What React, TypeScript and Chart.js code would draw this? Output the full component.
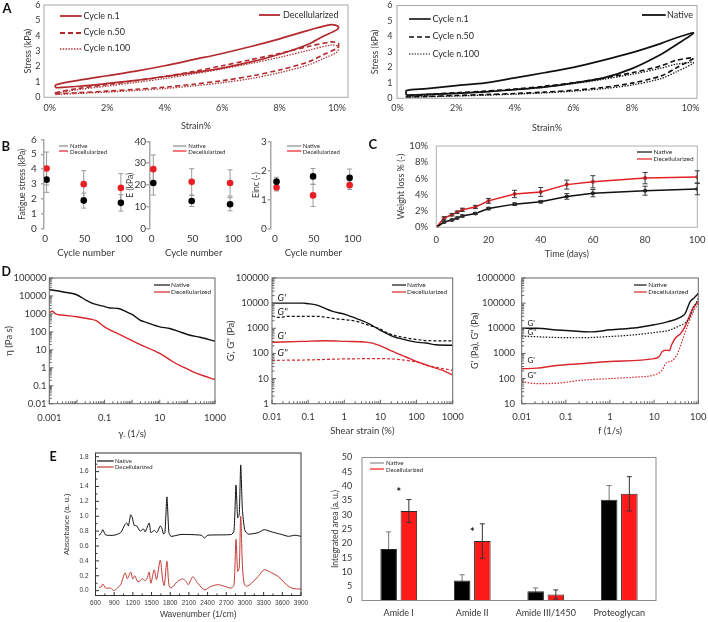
import React, { useEffect, useRef } from 'react';
import { Chart, registerables } from 'chart.js';

Chart.register(...registerables);

// ---------------- Panel A : hysteresis loops (strain %, stress kPa) ----------------
const strainTicks = [0, 2, 4, 6, 8, 10];
const stressTicks = [0, 1, 2, 3, 4, 5, 6];
const decLoopStrain = [0.2, 1, 2, 3, 4, 5, 6, 7, 8, 9, 9.5, 10, 10.05, 9.8, 9, 8, 7, 6, 5, 4, 3, 2, 1, 0.2, 0.2];
const decCycle1 = [0.62, 0.72, 0.9, 1.1, 1.35, 1.6, 1.9, 2.3, 2.8, 3.45, 3.95, 4.4, 4.6, 4.72, 4.35, 3.8, 3.3, 2.85, 2.45, 2.05, 1.7, 1.4, 1.1, 0.8, 0.62];
const decCycle50 = [0.22, 0.3, 0.4, 0.52, 0.66, 0.85, 1.08, 1.38, 1.78, 2.3, 2.75, 3.2, 3.5, 3.6, 3.3, 2.85, 2.45, 2.05, 1.68, 1.35, 1.08, 0.82, 0.58, 0.3, 0.22];
const decCycle100 = [0.18, 0.25, 0.34, 0.44, 0.57, 0.74, 0.95, 1.22, 1.6, 2.1, 2.5, 2.95, 3.3, 3.4, 3.05, 2.6, 2.2, 1.85, 1.52, 1.22, 0.97, 0.73, 0.5, 0.25, 0.18];
const natLoopStrain = [0.3, 1, 2, 3, 4, 5, 6, 7, 8, 9, 9.5, 10.1, 9.5, 9, 8, 7, 6, 5, 4, 3, 2, 1, 0.3, 0.3];
const natCycle1 = [0.2, 0.25, 0.32, 0.42, 0.56, 0.72, 0.98, 1.3, 1.92, 2.85, 3.45, 4.22, 3.9, 3.55, 2.95, 2.45, 2.0, 1.65, 1.32, 1.0, 0.82, 0.62, 0.5, 0.2];
const natCycle50 = [0.08, 0.12, 0.18, 0.24, 0.31, 0.4, 0.52, 0.7, 0.98, 1.45, 1.95, 2.6, 2.45, 2.1, 1.65, 1.3, 1.0, 0.78, 0.6, 0.47, 0.36, 0.24, 0.15, 0.08];
const natCycle100 = [0.06, 0.1, 0.15, 0.2, 0.27, 0.35, 0.46, 0.62, 0.86, 1.28, 1.7, 2.3, 2.2, 1.95, 1.55, 1.22, 0.95, 0.73, 0.56, 0.43, 0.32, 0.2, 0.1, 0.06];

// ---------------- Panel B : fatigue ----------------
const cycleNumbers = [2, 49, 96];
const cycleTicks = [0, 50, 100];
const fatigueTicks = [0, 1, 2, 3, 4, 5, 6];
const fatigueNative = [3.3, 1.9, 1.75];
const fatigueNativeErr = [0.85, 0.5, 0.55];
const fatigueDecell = [4.05, 3.0, 2.75];
const fatigueDecellErr = [1.1, 0.9, 0.95];
const modulusTicks = [0, 10, 20, 30, 40];
const modulusNative = [21, 12.8, 11.3];
const modulusNativeErr = [5.5, 2.5, 3];
const modulusDecell = [27.3, 21.5, 21];
const modulusDecellErr = [6.5, 6, 6];
const eincTicks = [0, 1, 2, 3];
const eincNative = [1.62, 1.8, 1.75];
const eincNativeErr = [0.15, 0.27, 0.3];
const eincDecell = [1.42, 1.15, 1.5];
const eincDecellErr = [0.12, 0.38, 0.15];

// ---------------- Panel C : weight loss ----------------
const days = [0, 3, 6, 8, 10, 15, 20, 30, 40, 50, 60, 80, 100];
const dayTicks = [0, 20, 40, 60, 80, 100];
const lossTicks = [0, 2, 4, 6, 8, 10];
const lossNative = [0, 0.65, 0.9, 1.15, 1.4, 1.7, 2.3, 2.85, 3.15, 3.8, 4.2, 4.5, 4.7];
const lossNativeErr = [0, 0.1, 0.1, 0.1, 0.12, 0.12, 0.15, 0.15, 0.15, 0.35, 0.45, 0.55, 0.7];
const lossDecell = [0, 1.15, 1.55, 1.85, 2.15, 2.5, 3.25, 4.1, 4.35, 5.25, 5.6, 6.05, 6.2];
const lossDecellErr = [0, 0.15, 0.15, 0.15, 0.2, 0.2, 0.3, 0.45, 0.55, 0.55, 0.75, 0.7, 0.75];

// ---------------- Panel D : rheology ----------------
const rateTicks = [0.001, 0.1, 10, 1000];
const viscTicks = [0.01, 0.1, 1, 10, 100, 1000, 10000, 100000];
const rateNative = [0.001, 0.0043, 0.0098, 0.022, 0.039, 0.09, 0.157, 0.316, 0.63, 1.1, 1.93, 3.4, 10, 23, 62, 125, 290, 1000];
const viscNative = [23000, 15500, 11700, 5700, 3700, 2700, 2150, 2000, 1300, 850, 450, 330, 190, 155, 92, 65, 50, 30];
const rateDecell = [0.001, 0.0013, 0.0017, 0.0032, 0.0098, 0.03, 0.05, 0.1, 0.36, 1.9, 10, 31, 71, 160, 380, 1000];
const viscDecell = [1180, 1400, 1000, 850, 700, 520, 420, 190, 70, 20, 6.3, 2.1, 1.1, 0.6, 0.36, 0.22];

const ampTicks = [0.01, 0.1, 1, 10, 100, 1000];
const modAmpTicks = [1, 10, 100, 1000, 10000, 100000];
const ampGpNatX = [0.01, 0.07, 0.1, 0.165, 0.48, 1.1, 2.6, 4.9, 9.3, 22, 41, 96, 180, 350, 1000];
const ampGpNat = [10000, 10000, 9500, 8500, 4700, 3500, 2200, 1500, 880, 480, 370, 280, 260, 220, 210];
const ampGppNatX = [0.01, 0.015, 0.03, 0.165, 0.59, 2.1, 4.9, 9.3, 18, 41, 96, 220, 1000];
const ampGppNat = [3100, 2700, 3000, 3000, 2400, 1900, 1300, 960, 600, 440, 360, 320, 315];
const ampGpDecX = [0.01, 0.07, 0.31, 1.1, 4, 9.3, 22, 51, 107, 220, 530, 1000];
const ampGpDec = [280, 300, 320, 300, 280, 210, 120, 72, 46, 32, 21, 14];
const ampGppDecX = [0.01, 0.1, 0.8, 9.3, 22, 41, 96, 220, 530, 1000];
const ampGppDec = [53, 55, 60, 62, 60, 55, 46, 32, 25, 21];

const freqTicks = [0.01, 0.1, 1, 10, 100];
const modFreqTicks = [10, 100, 1000, 10000, 100000, 1000000];
const freqGpNatX = [0.01, 0.022, 0.062, 0.18, 0.4, 1, 4, 10, 20, 40, 50, 65, 80, 100];
const freqGpNat = [10000, 10000, 8500, 7600, 7200, 8700, 10500, 13800, 18000, 28000, 38000, 112000, 160000, 240000];
const freqGppNatX = [0.01, 0.022, 0.062, 0.18, 1, 4, 10, 23, 38, 50, 65, 80, 100];
const freqGppNat = [4900, 4600, 4300, 4200, 4700, 5600, 6800, 8500, 12700, 16000, 28000, 70000, 150000];
const freqGpDecX = [0.01, 0.022, 0.062, 0.21, 1, 10, 13, 15, 18, 22, 25, 30, 40, 50, 60, 75, 100];
const freqGpDec = [245, 260, 330, 390, 480, 620, 750, 1150, 1350, 1300, 2250, 4000, 6300, 11700, 25000, 63000, 115000];
const freqGppDecX = [0.01, 0.022, 0.062, 0.21, 1, 4, 10, 15, 19, 25, 33, 45, 60, 77, 100];
const freqGppDec = [75, 63, 65, 85, 100, 115, 140, 210, 430, 500, 900, 4000, 16000, 45000, 100000];

// ---------------- Panel E : FTIR ----------------
const wnTicks = [600, 900, 1200, 1500, 1800, 2100, 2400, 2700, 3000, 3300, 3600, 3900];
const absTicks = [0, 0.2, 0.4, 0.6, 0.8, 1.0, 1.2, 1.4, 1.6, 1.8];
const ftirNatWn = [654, 690, 718, 762, 896, 1004, 1074, 1100, 1128, 1165, 1192, 1219, 1262, 1316, 1370, 1397, 1462, 1489, 1543, 1586, 1640, 1666, 1693, 1715, 1747, 1779, 1812, 1973, 2297, 2350, 2404, 2781, 2824, 2856, 2883, 2908, 2932, 2959, 2996, 3050, 3212, 3309, 3428, 3589, 3697, 3805, 3900];
const ftirNatAbs = [0.745, 0.77, 0.82, 0.75, 0.745, 0.78, 0.89, 0.91, 0.87, 1.02, 0.98, 0.88, 0.87, 0.8, 0.83, 0.79, 0.91, 0.78, 0.81, 0.78, 0.87, 0.84, 0.76, 0.78, 1.26, 0.78, 0.73, 0.755, 0.745, 0.71, 0.745, 0.755, 0.8, 1.42, 0.98, 1.02, 1.69, 1.09, 0.82, 0.76, 0.78, 0.82, 0.79, 0.755, 0.73, 0.745, 0.73];
const ftirDecWn = [654, 690, 718, 762, 842, 896, 950, 1004, 1074, 1112, 1165, 1197, 1230, 1284, 1354, 1392, 1424, 1462, 1489, 1543, 1580, 1640, 1678, 1704, 1747, 1779, 1812, 1920, 2000, 2054, 2092, 2162, 2243, 2350, 2458, 2566, 2673, 2781, 2824, 2856, 2883, 2908, 2932, 2959, 2986, 3023, 3104, 3212, 3309, 3428, 3535, 3643, 3751, 3900];
const ftirDecAbs = [0.045, 0.05, 0.09, 0.035, 0.035, 0.0, 0.035, 0.08, 0.24, 0.16, 0.25, 0.157, 0.2, 0.117, 0.16, 0.135, 0.157, 0.25, 0.1, 0.28, 0.15, 0.41, 0.15, 0.07, 0.395, 0.08, 0.035, 0.125, 0.157, 0.125, 0.08, 0.185, 0.1, 0.013, 0.058, 0.08, 0.058, 0.035, 0.08, 0.69, 0.26, 0.305, 1.0, 0.35, 0.1, 0.058, 0.1, 0.19, 0.28, 0.24, 0.19, 0.1, 0.035, 0.02];

const bands = ['Amide I', 'Amide II', 'Amide III/1450', 'Proteoglycan'];
const areaTicks = [0, 5, 10, 15, 20, 25, 30, 35, 40, 45, 50];
const areaNative = [18, 7, 3.2, 35.2];
const areaNativeErr = [6, 2, 1.2, 5];
const areaDecell = [31.3, 20.8, 2.1, 37.3];
const areaDecellErr = [4, 6, 1.6, 6];
const starLevels = [39, 25, null, null];

// ---------------- styling ----------------
const LATO = 'Lato, "Open Sans", sans-serif';
const ARIAL = '"Liberation Sans", Arial, sans-serif';
const TXT = '#363636';
const RED_A = '#b22a2e';
const RED_B = '#ea1f26';
const RED_D = '#d8262b';
const RED_E1 = '#c23b35';
const RED_E2 = '#ff1a1a';

type Box = [number, number, number, number];

const pts = (xs: number[], ys: number[]) => xs.map((x, i) => ({ x, y: ys[i] }));
const logFmt = (v: number) => String(Number(v.toPrecision(3)));
function minorLog(lo: number, hi: number) {
  const out: number[] = [];
  for (let e = lo; e < hi; e++) for (let k = 2; k <= 9; k++) out.push(k * Math.pow(10, e));
  return out;
}
function majorLog(lo: number, hi: number) {
  const out: number[] = [];
  for (let e = lo; e <= hi; e++) out.push(Math.pow(10, e));
  return out;
}
function steps(a: number, b: number, s: number) {
  const out: number[] = [];
  for (let v = a; v <= b + 1e-9; v += s) out.push(Number(v.toFixed(4)));
  return out;
}

// ---------------- plugins ----------------
const framePlugin = (color?: string, width = 1) => ({
  id: 'frame',
  afterDatasetsDraw(chart: any) {
    if (!color) return;
    const { ctx, chartArea: a } = chart;
    ctx.save();
    ctx.strokeStyle = color;
    ctx.lineWidth = width;
    ctx.strokeRect(a.left, a.top, a.right - a.left, a.bottom - a.top);
    ctx.restore();
  },
});

const inTickPlugin = (o?: any) => ({
  id: 'inTicks',
  afterDatasetsDraw(chart: any) {
    if (!o) return;
    const { ctx, chartArea: a, scales } = chart;
    ctx.save();
    ctx.strokeStyle = o.color;
    ctx.lineWidth = 1;
    const draw = (vals: number[] | undefined, len: number, axis: 'x' | 'y') => {
      if (!vals) return;
      const s = scales[axis];
      ctx.beginPath();
      for (const v of vals) {
        const p = s.getPixelForValue(v);
        if (axis === 'x') {
          if (p < a.left - 0.5 || p > a.right + 0.5) continue;
          ctx.moveTo(p, a.bottom);
          ctx.lineTo(p, a.bottom - len);
        } else {
          if (p < a.top - 0.5 || p > a.bottom + 0.5) continue;
          ctx.moveTo(a.left, p);
          ctx.lineTo(a.left + len, p);
        }
      }
      ctx.stroke();
    };
    draw(o.xMajor, o.majorLen, 'x');
    draw(o.xMinor, o.minorLen, 'x');
    draw(o.yMajor, o.majorLen, 'y');
    draw(o.yMinor, o.minorLen, 'y');
    ctx.restore();
  },
});

function drawErrors(chart: any, onTop: boolean) {
  const { ctx } = chart;
  chart.data.datasets.forEach((ds: any, i: number) => {
    if (!ds.errorBars || !!ds.errorOnTop !== onTop) return;
    const meta = chart.getDatasetMeta(i);
    const ys = chart.scales[meta.yAxisID];
    ctx.save();
    ctx.strokeStyle = ds.errorColor || '#555';
    ctx.lineWidth = ds.errorWidth || 1;
    const cap = ds.errorCap ?? 3;
    meta.data.forEach((el: any, j: number) => {
      const raw = ds.data[j];
      const v = typeof raw === 'number' ? raw : raw.y;
      const e = ds.errorBars[j];
      if (!e) return;
      const x = el.x;
      const y1 = ys.getPixelForValue(v + e);
      const y0 = ys.getPixelForValue(v - e);
      ctx.beginPath();
      ctx.moveTo(x, y0);
      ctx.lineTo(x, y1);
      ctx.moveTo(x - cap, y1);
      ctx.lineTo(x + cap, y1);
      ctx.moveTo(x - cap, y0);
      ctx.lineTo(x + cap, y0);
      ctx.stroke();
    });
    ctx.restore();
  });
}
const errPlugin = {
  id: 'errBars',
  beforeDatasetsDraw(chart: any) { drawErrors(chart, false); },
  afterDatasetsDraw(chart: any) { drawErrors(chart, true); },
};

const starPlugin = {
  id: 'stars',
  afterDatasetsDraw(chart: any) {
    const { ctx, scales } = chart;
    chart.data.datasets.forEach((ds: any) => {
      if (!ds.stars) return;
      ctx.save();
      ctx.fillStyle = '#111';
      ctx.font = `bold 11px ${LATO}`;
      ctx.textAlign = 'center';
      ctx.textBaseline = 'middle';
      ds.stars.forEach((lv: number | null, i: number) => {
        if (lv == null) return;
        ctx.fillText('*', scales.x.getPixelForValue(i), scales.y.getPixelForValue(lv) + 3);
      });
      ctx.restore();
    });
  },
};

// ---------------- config builder ----------------
function buildAxis(a: any, fit: (s: any) => void, pad: number, titlePad: number) {
  const o: any = {
    type: a.type || 'linear',
    afterFit: fit,
    ticks: {
      autoSkip: false,
      maxRotation: 0,
      minRotation: 0,
      padding: pad,
      color: TXT,
      font: { family: a.family || LATO, size: a.size },
    },
    grid: a.tickLen
      ? { display: true, drawOnChartArea: false, drawTicks: true, tickLength: a.tickLen, color: a.axisColor || '#999', lineWidth: a.axisWidth || 1 }
      : { display: false, drawTicks: false },
    border: { display: !!a.axisColor, color: a.axisColor || '#999', width: a.axisWidth || 1 },
    title: a.title
      ? {
          display: true,
          text: a.title,
          color: TXT,
          font: { family: a.family || LATO, size: a.titleSize },
          padding: { top: titlePad, bottom: titlePad },
        }
      : { display: false },
  };
  if (a.min !== undefined) o.min = a.min;
  if (a.max !== undefined) o.max = a.max;
  if (a.ticks) o.afterBuildTicks = (s: any) => { s.ticks = a.ticks.map((v: number) => ({ value: v })); };
  if (a.fmt) o.ticks.callback = a.fmt;
  return o;
}

function makeConfig(s: any) {
  const [cl, ct, cr, cb] = s.c as Box;
  const [pl, pt, pr, pb] = s.p as Box;
  const xs = s.x;
  const ys = s.y;
  const xPad = xs.labelCY - pb - 0.6 * xs.size - (xs.tickLen || 0);
  const yPad = pl - ys.labelRX - (ys.tickLen || 0);
  const xTP = xs.title ? cb - xs.titleCY - 0.6 * xs.titleSize : 0;
  const yTP = ys.title ? ys.titleCX - cl - 0.6 * ys.titleSize : 0;
  const fitX = (sc: any) => { sc.height = cb - pb; sc.paddingLeft = 0; sc.paddingRight = 0; sc.paddingTop = 0; sc.paddingBottom = 0; };
  const fitY = (sc: any) => { sc.width = pl - cl; sc.paddingLeft = 0; sc.paddingRight = 0; sc.paddingTop = 0; sc.paddingBottom = 0; };
  const data: any = { datasets: s.datasets };
  if (s.labels) data.labels = s.labels;
  return {
    type: s.type,
    data,
    plugins: [framePlugin(s.frame, s.frameWidth), inTickPlugin(s.inTicks), errPlugin, starPlugin],
    options: {
      responsive: false,
      animation: false,
      devicePixelRatio: 1,
      events: [],
      layout: { padding: { left: 0, top: pt - ct, right: cr - pr, bottom: 0 } },
      scales: { x: buildAxis(xs, fitX, xPad, xTP), y: buildAxis(ys, fitY, yPad, yTP) },
      plugins: { legend: { display: false }, tooltip: { enabled: false } },
    },
  };
}

const lineDs = (data: any[], color: string, width: number, dash: number[] = [], tension = 0.3, mono = false) => ({
  data,
  showLine: true,
  borderColor: color,
  backgroundColor: color,
  borderWidth: width,
  borderDash: dash,
  pointRadius: 0,
  fill: false,
  tension,
  cubicInterpolationMode: mono ? 'monotone' : 'default',
});

const dotDs = (xs: number[], ys: number[], err: number[], color: string) => ({
  data: pts(xs, ys),
  showLine: false,
  pointRadius: 3.3,
  pointBackgroundColor: color,
  pointBorderWidth: 0,
  errorBars: err,
  errorColor: '#9a9a9a',
  errorCap: 2.5,
});

// ---------------- chart specs ----------------
function specA(left: boolean) {
  const strain = left ? decLoopStrain : natLoopStrain;
  const loops = left ? [decCycle1, decCycle50, decCycle100] : [natCycle1, natCycle50, natCycle100];
  const col = left ? RED_A : '#111';
  return makeConfig({
    type: 'scatter',
    c: left ? [0, 0, 354, 134] : [354, 0, 708, 134],
    p: left ? [44, 5, 348, 97.3] : [397, 5.5, 697, 98.3],
    x: {
      min: left ? -0.2 : -0.02, max: left ? 10.38 : 10.22, ticks: strainTicks, fmt: (v: number) => v + '%',
      size: 9, labelCY: 108.5, title: 'Strain%', titleSize: 9, titleCY: left ? 126 : 128,
    },
    y: {
      min: 0, max: 6, ticks: stressTicks, size: 9, labelRX: left ? 40.5 : 392.5,
      title: 'Stress (kPa)', titleSize: 9, titleCX: left ? 28 : 375,
    },
    frame: '#a8a8a8',
    datasets: [
      lineDs(pts(strain, loops[0]), col, 1.7, [], 0.3),
      lineDs(pts(strain, loops[1]), col, 1.6, [5, 3], 0.3),
      lineDs(pts(strain, loops[2]), col, 1.3, [1.4, 1.4], 0.3),
    ],
  });
}

function specB(k: number) {
  const c: Box[] = [[0, 134, 140, 266], [120, 134, 252, 266], [240, 134, 366, 266]];
  const p: Box[] = [[44, 139.3, 128, 229], [149.3, 141.3, 238, 229], [270.7, 141.3, 356, 229]];
  const xr = [[-1.3, 105], [-2.9, 105.7], [-5.5, 104.2]];
  const yTicks = [fatigueTicks, modulusTicks, eincTicks][k];
  const nat = [fatigueNative, modulusNative, eincNative][k];
  const natE = [fatigueNativeErr, modulusNativeErr, eincNativeErr][k];
  const dec = [fatigueDecell, modulusDecell, eincDecell][k];
  const decE = [fatigueDecellErr, modulusDecellErr, eincDecellErr][k];
  return makeConfig({
    type: 'scatter',
    c: c[k],
    p: p[k],
    x: { min: xr[k][0], max: xr[k][1], ticks: cycleTicks, size: 10, labelCY: 238.5, title: 'Cycle number', titleSize: 9.5, titleCY: 252.5 },
    y: {
      min: 0, max: yTicks[yTicks.length - 1], ticks: yTicks, size: 10,
      labelRX: [36.7, 146, 266.7][k], tickLen: 3, axisColor: '#a9a9a9', axisWidth: 1.5,
      title: ['Fatigue stress (kPa)', 'E (kPa)', 'Einc (-)'][k], titleSize: 8.5, titleCX: [22, 130.5, 256][k],
    },
    datasets: [dotDs(cycleNumbers, nat, natE, '#000'), dotDs(cycleNumbers, dec, decE, RED_B)],
  });
}

function specC() {
  const mk = (ys: number[], err: number[], color: string) => ({
    data: pts(days, ys),
    showLine: true,
    borderColor: color,
    borderWidth: 1.5,
    pointRadius: 2,
    pointBackgroundColor: color,
    pointBorderWidth: 0,
    tension: 0,
    errorBars: err,
    errorColor: '#3a3a3a',
    errorCap: 2.5,
    errorOnTop: true,
  });
  return makeConfig({
    type: 'scatter',
    c: [362, 134, 708, 266],
    p: [436.3, 146, 697.3, 227.3],
    x: { min: 0, max: 100, ticks: dayTicks, size: 9.5, labelCY: 239.5, title: 'Time (days)', titleSize: 9, titleCY: 254 },
    y: {
      min: 0, max: 10, ticks: lossTicks, fmt: (v: number) => v + '%', size: 9.5, labelRX: 428,
      title: 'Weight loss % (-)', titleSize: 9, titleCX: 400.7,
    },
    frame: '#b0b0b0',
    datasets: [mk(lossNative, lossNativeErr, '#111'), mk(lossDecell, lossDecellErr, '#e31e24')],
  });
}

function specD(k: number) {
  const c: Box[] = [[0, 264, 236, 442], [222, 264, 470, 442], [468, 264, 708, 442]];
  const p: Box[] = [[49.3, 278, 215, 403.7], [272, 278, 452.7, 403.7], [521.7, 278, 698.3, 403.7]];
  const xR = [[-3, 3], [-2, 3], [-2, 2]][k];
  const yR = [[-2, 5], [0, 5], [1, 6]][k];
  const xTicks = [rateTicks, ampTicks, freqTicks][k];
  const yTicks = [viscTicks, modAmpTicks, modFreqTicks][k];
  let datasets: any[];
  if (k === 0) {
    datasets = [
      lineDs(pts(rateNative, viscNative), '#111', 1.4, [], 0, true),
      lineDs(pts(rateDecell, viscDecell), RED_D, 1.4, [], 0, true),
    ];
  } else if (k === 1) {
    datasets = [
      lineDs(pts(ampGpNatX, ampGpNat), '#111', 1.4, [], 0, true),
      lineDs(pts(ampGppNatX, ampGppNat), '#111', 1.2, [3, 2], 0, true),
      lineDs(pts(ampGpDecX, ampGpDec), RED_D, 1.4, [], 0, true),
      lineDs(pts(ampGppDecX, ampGppDec), RED_D, 1.2, [3, 2], 0, true),
    ];
  } else {
    datasets = [
      lineDs(pts(freqGpNatX, freqGpNat), '#111', 1.4, [], 0, true),
      lineDs(pts(freqGppNatX, freqGppNat), '#111', 1.2, [1.5, 1.5], 0, true),
      lineDs(pts(freqGpDecX, freqGpDec), RED_D, 1.4, [], 0, true),
      lineDs(pts(freqGppDecX, freqGppDec), RED_D, 1.2, [1.5, 1.5], 0, true),
    ];
  }
  return makeConfig({
    type: 'scatter',
    c: c[k],
    p: p[k],
    x: {
      type: 'logarithmic', min: Math.pow(10, xR[0]), max: Math.pow(10, xR[1]), ticks: xTicks, fmt: logFmt, size: 9.5,
      labelCY: [417.7, 416.5, 417][k], title: ['γ. (1/s)', 'Shear strain (%)', 'f (1/s)'][k], titleSize: 9.5,
      titleCY: [433.7, 430.5, 431][k],
    },
    y: {
      type: 'logarithmic', min: Math.pow(10, yR[0]), max: Math.pow(10, yR[1]), ticks: yTicks, fmt: logFmt, size: 9.5,
      labelRX: [46.6, 268.7, 515][k], title: ['η (Pa s)', "G', G'' (Pa)", "G' (Pa), G'' (Pa)"][k], titleSize: [9.5, 9.5, 9][k],
      titleCX: [8.5, 231, 475.5][k],
    },
    frame: '#666',
    inTicks: {
      color: '#666', majorLen: 4, minorLen: 2.5,
      xMajor: majorLog(xR[0], xR[1]), xMinor: minorLog(xR[0], xR[1]),
      yMajor: majorLog(yR[0], yR[1]), yMinor: minorLog(yR[0], yR[1]),
    },
    datasets,
  });
}

function specE1() {
  return makeConfig({
    type: 'scatter',
    c: [40, 446, 320, 622],
    p: [95.5, 453, 301, 595.5],
    x: {
      min: 600, max: 3900, ticks: wnTicks, fmt: (v: number) => String(v), size: 6.5, family: ARIAL,
      labelCY: 603, title: 'Wavenumber (1/cm)', titleSize: 8.5, titleCY: 615,
    },
    y: {
      min: -0.065, max: 1.85, ticks: absTicks, fmt: (v: number) => v.toFixed(1), size: 6.5, family: ARIAL,
      labelRX: 88.5, title: 'Absorbance (a. u.)', titleSize: 7.5, titleCX: 66.7,
    },
    frame: '#333',
    inTicks: {
      color: '#333', majorLen: 3.5, minorLen: 2,
      xMajor: wnTicks, xMinor: steps(750, 3750, 300), yMajor: absTicks, yMinor: steps(0.1, 1.7, 0.2),
    },
    datasets: [
      lineDs(pts(ftirNatWn, ftirNatAbs), '#111', 1, [], 0.2),
      lineDs(pts(ftirDecWn, ftirDecAbs), RED_E1, 1, [], 0.3),
    ],
  });
}

function specE2() {
  const bar = (vals: number[], err: number[], color: string, errColor: string, onTop: boolean, extra: any = {}) => ({
    data: vals,
    backgroundColor: color,
    borderColor: '#2a2a2a',
    borderWidth: 1,
    categoryPercentage: 0.55,
    barPercentage: 0.82,
    errorBars: err,
    errorColor: errColor,
    errorCap: 2.5,
    errorOnTop: onTop,
    ...extra,
  });
  return makeConfig({
    type: 'bar',
    labels: bands,
    c: [320, 446, 708, 622],
    p: [362, 457.5, 656, 600.5],
    x: { type: 'category', size: 9, labelCY: 613.3 },
    y: {
      min: 0, max: 50, ticks: areaTicks, size: 9, labelRX: 352.3,
      title: 'Integrated area (a. u.)', titleSize: 8.5, titleCX: 335,
    },
    frame: '#8c8c8c',
    datasets: [
      bar(areaNative, areaNativeErr, '#000', '#777', false),
      bar(areaDecell, areaDecellErr, RED_E2, '#333', true, { stars: starLevels }),
    ],
  });
}

// ---------------- React ----------------
function ChartBox({ c, make }: { c: Box; make: () => any }) {
  const ref = useRef<HTMLCanvasElement>(null);
  useEffect(() => {
    const chart = new Chart(ref.current as HTMLCanvasElement, make());
    return () => chart.destroy();
  }, []);
  const [l, t, r, b] = c;
  return (
    <canvas
      ref={ref}
      width={r - l}
      height={b - t}
      style={{ position: 'absolute', left: l, top: t, width: r - l, height: b - t }}
    />
  );
}

type LegItem = { label: string; color: string; y: number; dash?: string; w?: number };
function Legend({ x1, x2, tx, size, family, items }: { x1: number; x2: number; tx: number; size: number; family: string; items: LegItem[] }) {
  return (
    <>
      {items.map((it, i) => (
        <React.Fragment key={i}>
          <svg
            width={x2 - x1}
            height={6}
            style={{ position: 'absolute', left: x1, top: it.y - 3, overflow: 'visible' }}
          >
            <line x1={0} y1={3} x2={x2 - x1} y2={3} stroke={it.color} strokeWidth={it.w ?? 1.2} strokeDasharray={it.dash} />
          </svg>
          <div
            style={{
              position: 'absolute',
              left: tx,
              top: it.y - size * 0.6,
              fontFamily: family,
              fontSize: size,
              lineHeight: `${size * 1.2}px`,
              color: '#2a2a2a',
              whiteSpace: 'nowrap',
            }}
          >
            {it.label}
          </div>
        </React.Fragment>
      ))}
    </>
  );
}

function Txt({ x, y, size, children, bold, italic, family }: any) {
  return (
    <div
      style={{
        position: 'absolute',
        left: x,
        top: y - size * 0.6,
        fontFamily: family || LATO,
        fontSize: size,
        lineHeight: `${size * 1.2}px`,
        fontWeight: bold ? 700 : 400,
        fontStyle: italic ? 'italic' : 'normal',
        color: '#111',
        whiteSpace: 'nowrap',
      }}
    >
      {children}
    </div>
  );
}

const natDecB = (y1: number, y2: number, natColor: string, decColor: string): LegItem[] => [
  { label: 'Native', color: natColor, y: y1 },
  { label: 'Decellularized', color: decColor, y: y2 },
];

export default function App() {
  return (
    <div style={{ position: 'absolute', left: 0, top: 0, width: 708, height: 622, background: '#fff', overflow: 'hidden' }}>
      <ChartBox c={[0, 0, 354, 134]} make={() => specA(true)} />
      <ChartBox c={[354, 0, 708, 134]} make={() => specA(false)} />
      <ChartBox c={[0, 134, 140, 266]} make={() => specB(0)} />
      <ChartBox c={[120, 134, 252, 266]} make={() => specB(1)} />
      <ChartBox c={[240, 134, 366, 266]} make={() => specB(2)} />
      <ChartBox c={[362, 134, 708, 266]} make={() => specC()} />
      <ChartBox c={[0, 264, 236, 442]} make={() => specD(0)} />
      <ChartBox c={[222, 264, 470, 442]} make={() => specD(1)} />
      <ChartBox c={[468, 264, 708, 442]} make={() => specD(2)} />
      <ChartBox c={[40, 446, 320, 622]} make={() => specE1()} />
      <ChartBox c={[320, 446, 708, 622]} make={() => specE2()} />

      {/* panel letters */}
      <Txt x={2.5} y={8.5} size={13} bold>A</Txt>
      <Txt x={1.5} y={146.5} size={13} bold>B</Txt>
      <Txt x={368.5} y={144.5} size={13} bold>C</Txt>
      <Txt x={1.5} y={271} size={12.5} bold>D</Txt>
      <Txt x={49.5} y={456} size={12.5} bold>E</Txt>

      {/* panel A legends */}
      <Legend x1={60} x2={81.7} tx={83.5} size={9} family={LATO} items={[
        { label: 'Cycle n.1', color: RED_A, y: 16, w: 1.8 },
        { label: 'Cycle n.50', color: RED_A, y: 32.5, w: 1.8, dash: '5 3' },
        { label: 'Cycle n.100', color: RED_A, y: 48.5, w: 1.3, dash: '1.4 1.4' },
      ]} />
      <Legend x1={259} x2={280} tx={283} size={9} family={LATO} items={[{ label: 'Decellularized', color: RED_A, y: 15, w: 1.8 }]} />
      <Legend x1={409} x2={430.7} tx={432.5} size={9} family={LATO} items={[
        { label: 'Cycle n.1', color: '#111', y: 19.3, w: 1.6 },
        { label: 'Cycle n.50', color: '#111', y: 36.7, w: 1.6, dash: '5 3' },
        { label: 'Cycle n.100', color: '#111', y: 54.3, w: 1.2, dash: '1.4 1.4' },
      ]} />
      <Legend x1={642} x2={665.7} tx={667} size={9} family={LATO} items={[{ label: 'Native', color: '#111', y: 15, w: 1.8 }]} />

      {/* panel B legends */}
      <Legend x1={59.3} x2={68.3} tx={70} size={6} family={LATO} items={natDecB(145.7, 151.3, '#8a8a8a', RED_B)} />
      <Legend x1={173.3} x2={186.7} tx={188.3} size={6} family={LATO} items={natDecB(145.7, 151.3, '#8a8a8a', RED_B)} />
      <Legend x1={287.3} x2={301.7} tx={302.7} size={6} family={LATO} items={natDecB(145.7, 151.3, '#8a8a8a', RED_B)} />

      {/* panel C legend */}
      <Legend x1={637} x2={652} tx={653.5} size={6.5} family={LATO} items={natDecB(151.7, 159.3, '#111', '#e31e24')} />

      {/* panel D legends */}
      <Legend x1={154} x2={170} tx={171} size={6.5} family={LATO} items={natDecB(285.3, 292, '#111', RED_D)} />
      <Legend x1={392} x2={406} tx={407} size={6.5} family={LATO} items={natDecB(285.3, 292, '#111', RED_D)} />
      <Legend x1={634} x2={646.7} tx={648.3} size={6.5} family={LATO} items={natDecB(285.3, 292, '#111', RED_D)} />

      {/* G' / G'' labels */}
      <Txt x={277.5} y={298} size={9.5} italic>G'</Txt>
      <Txt x={277.5} y={312} size={9.5} italic>G''</Txt>
      <Txt x={277.5} y={336} size={9.5} italic>G'</Txt>
      <Txt x={277.5} y={353} size={9.5} italic>G''</Txt>
      <Txt x={527.5} y={323.7} size={8}>G'</Txt>
      <Txt x={527.5} y={333} size={8}>G''</Txt>
      <Txt x={527.5} y={361} size={8}>G'</Txt>
      <Txt x={527.5} y={376} size={8}>G''</Txt>

      {/* panel E legends */}
      <Legend x1={96.7} x2={113.3} tx={115} size={6} family={ARIAL} items={natDecB(461.3, 467.3, '#111', RED_E1)} />
      <Legend x1={370} x2={384} tx={386} size={6} family={LATO} items={natDecB(463, 469.3, '#8a8a8a', RED_E2)} />
    </div>
  );
}
